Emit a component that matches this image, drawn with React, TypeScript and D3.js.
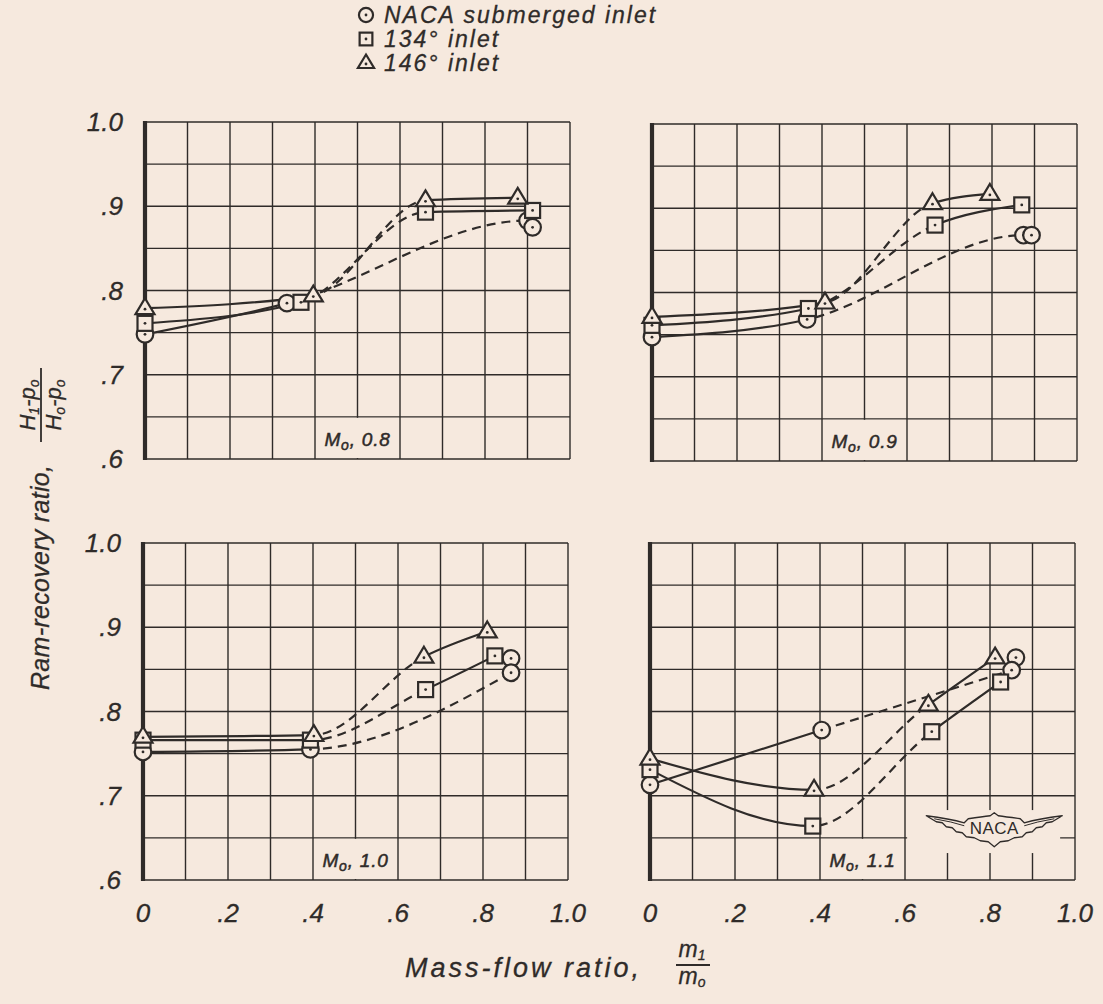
import React from 'react';
import * as d3 from 'd3';

type Pt = [number, number];
type Seg = 'solid' | 'dashed';

// ---------- axis / text data ----------
const X_TICKS = [0, 0.2, 0.4, 0.6, 0.8, 1.0];
const X_TICK_LABELS = ['0', '.2', '.4', '.6', '.8', '1.0'];
const Y_TICKS = [0.6, 0.7, 0.8, 0.9, 1.0];
const Y_TICK_LABELS = ['.6', '.7', '.8', '.9', '1.0'];
const MACH_LABELS = ['0.8', '0.9', '1.0', '1.1'];
const LEGEND_NAMES = ['NACA submerged inlet', '134° inlet', '146° inlet'];

// ---------- M0 = 0.8 ----------
const M08_NACA: Pt[] = [[0, 0.748], [0.334, 0.785], [0.9, 0.883], [0.912, 0.875]];
const M08_NACA_SEG: Seg[] = ['solid', 'dashed', 'solid'];
const M08_134: Pt[] = [[0, 0.761], [0.367, 0.786], [0.66, 0.893], [0.912, 0.895]];
const M08_134_SEG: Seg[] = ['solid', 'dashed', 'solid'];
const M08_146: Pt[] = [[0, 0.779], [0.396, 0.794], [0.66, 0.907], [0.877, 0.91]];
const M08_146_SEG: Seg[] = ['solid', 'dashed', 'solid'];

// ---------- M0 = 0.9 ----------
const M09_NACA: Pt[] = [[0, 0.747], [0.365, 0.768], [0.874, 0.868], [0.893, 0.868]];
const M09_NACA_SEG: Seg[] = ['solid', 'dashed', 'solid'];
const M09_134: Pt[] = [[0, 0.761], [0.368, 0.781], [0.666, 0.88], [0.87, 0.904]];
const M09_134_SEG: Seg[] = ['solid', 'dashed', 'solid'];
const M09_146: Pt[] = [[0, 0.771], [0.407, 0.788], [0.66, 0.906], [0.795, 0.917]];
const M09_146_SEG: Seg[] = ['solid', 'dashed', 'solid'];

// ---------- M0 = 1.0 ----------
const M10_NACA: Pt[] = [[0, 0.752], [0.394, 0.755], [0.866, 0.846]];
const M10_NACA_SEG: Seg[] = ['solid', 'dashed'];
const M10_NACA_EXTRA: Pt[] = [[0.866, 0.863]];
const M10_134: Pt[] = [[0, 0.766], [0.394, 0.766], [0.665, 0.826], [0.828, 0.866]];
const M10_134_SEG: Seg[] = ['solid', 'dashed', 'solid'];
const M10_146: Pt[] = [[0, 0.77], [0.402, 0.772], [0.661, 0.865], [0.81, 0.895]];
const M10_146_SEG: Seg[] = ['solid', 'dashed', 'solid'];

// ---------- M0 = 1.1 ----------
const M11_NACA: Pt[] = [[0, 0.713], [0.404, 0.778], [0.851, 0.849]];
const M11_NACA_SEG: Seg[] = ['solid', 'dashed'];
const M11_NACA_EXTRA: Pt[] = [[0.861, 0.864]];
const M11_134: Pt[] = [[0, 0.731], [0.383, 0.664], [0.663, 0.776], [0.825, 0.835]];
const M11_134_SEG: Seg[] = ['solid', 'dashed', 'solid'];
const M11_146: Pt[] = [[0, 0.744], [0.386, 0.707], [0.655, 0.808], [0.812, 0.864]];
const M11_146_SEG: Seg[] = ['solid', 'dashed', 'solid'];

// ---------- styling ----------
const W = 1103;
const H = 1004;
const BG = '#f6e9de';
const INK = '#2f2b29';
const FONT = '"Liberation Sans", Arial, sans-serif';
const PW = 425;
const PH = 337;

type SeriesDef = { kind: 'circle' | 'square' | 'triangle'; pts: Pt[]; seg: Seg[]; extra?: Pt[] };

const Marker: React.FC<{ kind: string; x: number; y: number; s?: number }> = ({ kind, x, y, s = 1 }) => {
  const sw = 2.2;
  let shape: React.ReactNode = null;
  if (kind === 'circle') {
    shape = <circle cx={x} cy={y} r={8.3 * s} fill={BG} stroke={INK} strokeWidth={sw} />;
  } else if (kind === 'square') {
    const h = 7.5 * s;
    shape = <rect x={x - h} y={y - h} width={2 * h} height={2 * h} fill={BG} stroke={INK} strokeWidth={sw} />;
  } else {
    const a = 9.5 * s;
    const pts = [[x, y - a * 1.05], [x + a, y + a * 0.62], [x - a, y + a * 0.62]];
    shape = <polygon points={pts.map(p => p.join(',')).join(' ')} fill={BG} stroke={INK} strokeWidth={sw} strokeLinejoin="miter" />;
  }
  return (
    <g>
      {shape}
      <circle cx={x} cy={kind === 'triangle' ? y + 1 : y} r={1.4} fill={INK} />
    </g>
  );
};

const NacaLogo: React.FC<{ cx: number; cy: number }> = ({ cx, cy }) => {
  const outline =
    'M -68 -12 Q -45 -9 -30 -5 L -26 -9 Q -12 -11 -4 -12 L 0 -15 L 4 -12 Q 12 -11 26 -9 L 30 -5 Q 45 -9 68 -12 ' +
    'L 58 -6 L 52 -5 L 48 -1 L 42 0 L 38 4 L 32 5 L 28 9 L 20 10 L 14 13 L 6 14 L 0 19 L -6 14 L -14 13 L -20 10 L -28 9 L -32 5 L -38 4 L -42 0 L -48 -1 L -52 -5 L -58 -6 Z';
  const inner = 'M -60 -9 Q -42 -6 -30 -2 M 60 -9 Q 42 -6 30 -2';
  return (
    <g transform={`translate(${cx},${cy})`}>
      <path d={outline} fill={BG} stroke={INK} strokeWidth={1.3} strokeLinejoin="round" />
      <path d={inner} fill="none" stroke={INK} strokeWidth={1} />
      <text x={0} y={6} textAnchor="middle" fontFamily={FONT} fontSize={17} fill={INK} letterSpacing={0.5}>
        NACA
      </text>
    </g>
  );
};

const Panel: React.FC<{
  id: string;
  left: number;
  top: number;
  series: SeriesDef[];
  mach: string;
  showX: boolean;
  showY: boolean;
  logo?: boolean;
}> = ({ id, left, top, series, mach, showX, showY, logo }) => {
  const xs = d3.scaleLinear().domain([0, 1]).range([left, left + PW]);
  const ys = d3.scaleLinear().domain([0.6, 1.0]).range([top + PH, top]);
  const line = d3
    .line<Pt>()
    .x(d => xs(d[0]))
    .y(d => ys(d[1]))
    .curve(d3.curveMonotoneX);
  const vGrid = d3.range(0, 11).map(i => i / 10);
  const hGrid = d3.range(0, 9).map(i => 0.6 + i * 0.05);

  return (
    <g>
      <defs>
        {series.map((s, si) =>
          (['solid', 'dashed'] as Seg[]).map(style => (
            <clipPath id={`c-${id}-${si}-${style}`} key={`${si}-${style}`}>
              {s.seg.map((sg, k) =>
                sg === style ? (
                  <rect
                    key={k}
                    x={xs(s.pts[k][0])}
                    y={top - 30}
                    width={xs(s.pts[k + 1][0]) - xs(s.pts[k][0])}
                    height={PH + 60}
                  />
                ) : null
              )}
            </clipPath>
          ))
        )}
      </defs>
      {/* grid */}
      {vGrid.map(v => (
        <line key={`v${v}`} x1={xs(v)} x2={xs(v)} y1={ys(0.6)} y2={ys(1.0)} stroke={INK} strokeWidth={1.4} />
      ))}
      {hGrid.map(v => (
        <line key={`h${v}`} x1={xs(0)} x2={xs(1)} y1={ys(v)} y2={ys(v)} stroke={INK} strokeWidth={1.4} />
      ))}
      <line x1={xs(0)} x2={xs(0)} y1={ys(0.6) + 1} y2={ys(1.0) - 1} stroke={INK} strokeWidth={4.2} />
      {/* Mach label box */}
      <rect x={xs(0.4) + 1} y={ys(0.65) + 1} width={xs(0.6) - xs(0.4) - 2} height={ys(0.6) - ys(0.65) - 2} fill={BG} />
      <text
        x={(xs(0.4) + xs(0.6)) / 2}
        y={ys(0.6) - 13}
        textAnchor="middle"
        fontFamily={FONT}
        fontStyle="italic"
        fontSize={19}
        fill={INK}
        stroke={INK}
        strokeWidth={0.5}
        letterSpacing={0.8}
      >
        M
        <tspan fontSize={14} dy={4}>o</tspan>
        <tspan dy={-4}>{`, ${mach}`}</tspan>
      </text>
      {logo ? (
        <g>
          <rect x={xs(0.605)} y={ys(0.683)} width={xs(0.965) - xs(0.605)} height={ys(0.632) - ys(0.683)} fill={BG} />
          <NacaLogo cx={xs(0.81)} cy={ys(0.662)} />
        </g>
      ) : null}
      {/* curves */}
      {series.map((s, si) => (
        <g key={`l${si}`}>
          <path d={line(s.pts) || ''} fill="none" stroke={INK} strokeWidth={2.2} clipPath={`url(#c-${id}-${si}-solid)`} />
          <path
            d={line(s.pts) || ''}
            fill="none"
            stroke={INK}
            strokeWidth={2.2}
            strokeDasharray="9 6"
            clipPath={`url(#c-${id}-${si}-dashed)`}
          />
        </g>
      ))}
      {/* markers */}
      {series.map((s, si) => (
        <g key={`m${si}`}>
          {(s.extra || []).map((p, k) => (
            <Marker key={`e${k}`} kind={s.kind} x={xs(p[0])} y={ys(p[1])} />
          ))}
          {s.pts.map((p, k) => (
            <Marker key={k} kind={s.kind} x={xs(p[0])} y={ys(p[1])} />
          ))}
        </g>
      ))}
      {/* tick labels */}
      {showY &&
        Y_TICKS.map((v, i) => (
          <text
            key={`yt${v}`}
            x={left - 22}
            y={ys(v) + 9}
            textAnchor="end"
            fontFamily={FONT}
            fontStyle="italic"
            fontSize={26}
            fill={INK}
            stroke={INK}
            strokeWidth={0.3}
          >
            {Y_TICK_LABELS[i]}
          </text>
        ))}
      {showX &&
        X_TICKS.map((v, i) => (
          <text
            key={`xt${v}`}
            x={xs(v)}
            y={ys(0.6) + 42}
            textAnchor="middle"
            fontFamily={FONT}
            fontStyle="italic"
            fontSize={26}
            fill={INK}
            stroke={INK}
            strokeWidth={0.3}
          >
            {X_TICK_LABELS[i]}
          </text>
        ))}
    </g>
  );
};

const App: React.FC = () => {
  const panels = [
    {
      id: 'p08',
      left: 145,
      top: 122,
      mach: MACH_LABELS[0],
      showX: false,
      showY: true,
      series: [
        { kind: 'circle', pts: M08_NACA, seg: M08_NACA_SEG },
        { kind: 'square', pts: M08_134, seg: M08_134_SEG },
        { kind: 'triangle', pts: M08_146, seg: M08_146_SEG },
      ] as SeriesDef[],
    },
    {
      id: 'p09',
      left: 652,
      top: 124,
      mach: MACH_LABELS[1],
      showX: false,
      showY: false,
      series: [
        { kind: 'circle', pts: M09_NACA, seg: M09_NACA_SEG },
        { kind: 'square', pts: M09_134, seg: M09_134_SEG },
        { kind: 'triangle', pts: M09_146, seg: M09_146_SEG },
      ] as SeriesDef[],
    },
    {
      id: 'p10',
      left: 143,
      top: 543,
      mach: MACH_LABELS[2],
      showX: true,
      showY: true,
      series: [
        { kind: 'circle', pts: M10_NACA, seg: M10_NACA_SEG, extra: M10_NACA_EXTRA },
        { kind: 'square', pts: M10_134, seg: M10_134_SEG },
        { kind: 'triangle', pts: M10_146, seg: M10_146_SEG },
      ] as SeriesDef[],
    },
    {
      id: 'p11',
      left: 650,
      top: 543,
      mach: MACH_LABELS[3],
      showX: true,
      showY: false,
      logo: true,
      series: [
        { kind: 'circle', pts: M11_NACA, seg: M11_NACA_SEG, extra: M11_NACA_EXTRA },
        { kind: 'square', pts: M11_134, seg: M11_134_SEG },
        { kind: 'triangle', pts: M11_146, seg: M11_146_SEG },
      ] as SeriesDef[],
    },
  ];
  const legendKinds = ['circle', 'square', 'triangle'];

  return (
    <svg
      width={W}
      height={H}
      viewBox={`0 0 ${W} ${H}`}
      style={{ position: 'absolute', left: 0, top: 0, display: 'block' }}
    >
      <rect x={0} y={0} width={W} height={H} fill={BG} />
      {/* legend */}
      {LEGEND_NAMES.map((name, i) => (
        <g key={name}>
          <Marker kind={legendKinds[i]} x={366} y={15 + i * 24} s={0.85} />
          <text
            x={384}
            y={23 + i * 24}
            fontFamily={FONT}
            fontStyle="italic"
            fontSize={23}
            fill={INK}
            stroke={INK}
            strokeWidth={0.3}
            letterSpacing={2}
          >
            {name}
          </text>
        </g>
      ))}
      {panels.map(p => (
        <Panel key={p.id} {...p} />
      ))}
      {/* y title */}
      <g transform="translate(49,690) rotate(-90)">
        <text x={0} y={0} fontFamily={FONT} fontStyle="italic" fontSize={25} fill={INK} stroke={INK} strokeWidth={0.3} letterSpacing={0.3}>
          Ram-recovery ratio,
        </text>
        <text x={285} y={-14} textAnchor="middle" fontFamily={FONT} fontStyle="italic" fontSize={22} fill={INK} stroke={INK} strokeWidth={0.3}>
          H<tspan fontSize={14} dy={4}>1</tspan>
          <tspan dy={-4}>-p</tspan>
          <tspan fontSize={14} dy={4}>o</tspan>
        </text>
        <line x1={248} x2={322} y1={-8} y2={-8} stroke={INK} strokeWidth={1.8} />
        <text x={285} y={12} textAnchor="middle" fontFamily={FONT} fontStyle="italic" fontSize={22} fill={INK} stroke={INK} strokeWidth={0.3}>
          H<tspan fontSize={14} dy={4}>o</tspan>
          <tspan dy={-4}>-p</tspan>
          <tspan fontSize={14} dy={4}>o</tspan>
        </text>
      </g>
      {/* x title */}
      <g>
        <text x={405} y={977} fontFamily={FONT} fontStyle="italic" fontSize={27} fill={INK} stroke={INK} strokeWidth={0.3} letterSpacing={3}>
          Mass-flow ratio,
        </text>
        <text x={692} y={957} textAnchor="middle" fontFamily={FONT} fontStyle="italic" fontSize={23} fill={INK} stroke={INK} strokeWidth={0.3}>
          m<tspan fontSize={14} dy={3}>1</tspan>
        </text>
        <line x1={676} x2={710} y1={965} y2={965} stroke={INK} strokeWidth={1.8} />
        <text x={692} y={984} textAnchor="middle" fontFamily={FONT} fontStyle="italic" fontSize={23} fill={INK} stroke={INK} strokeWidth={0.3}>
          m<tspan fontSize={14} dy={3}>o</tspan>
        </text>
      </g>
    </svg>
  );
};

export default App;
